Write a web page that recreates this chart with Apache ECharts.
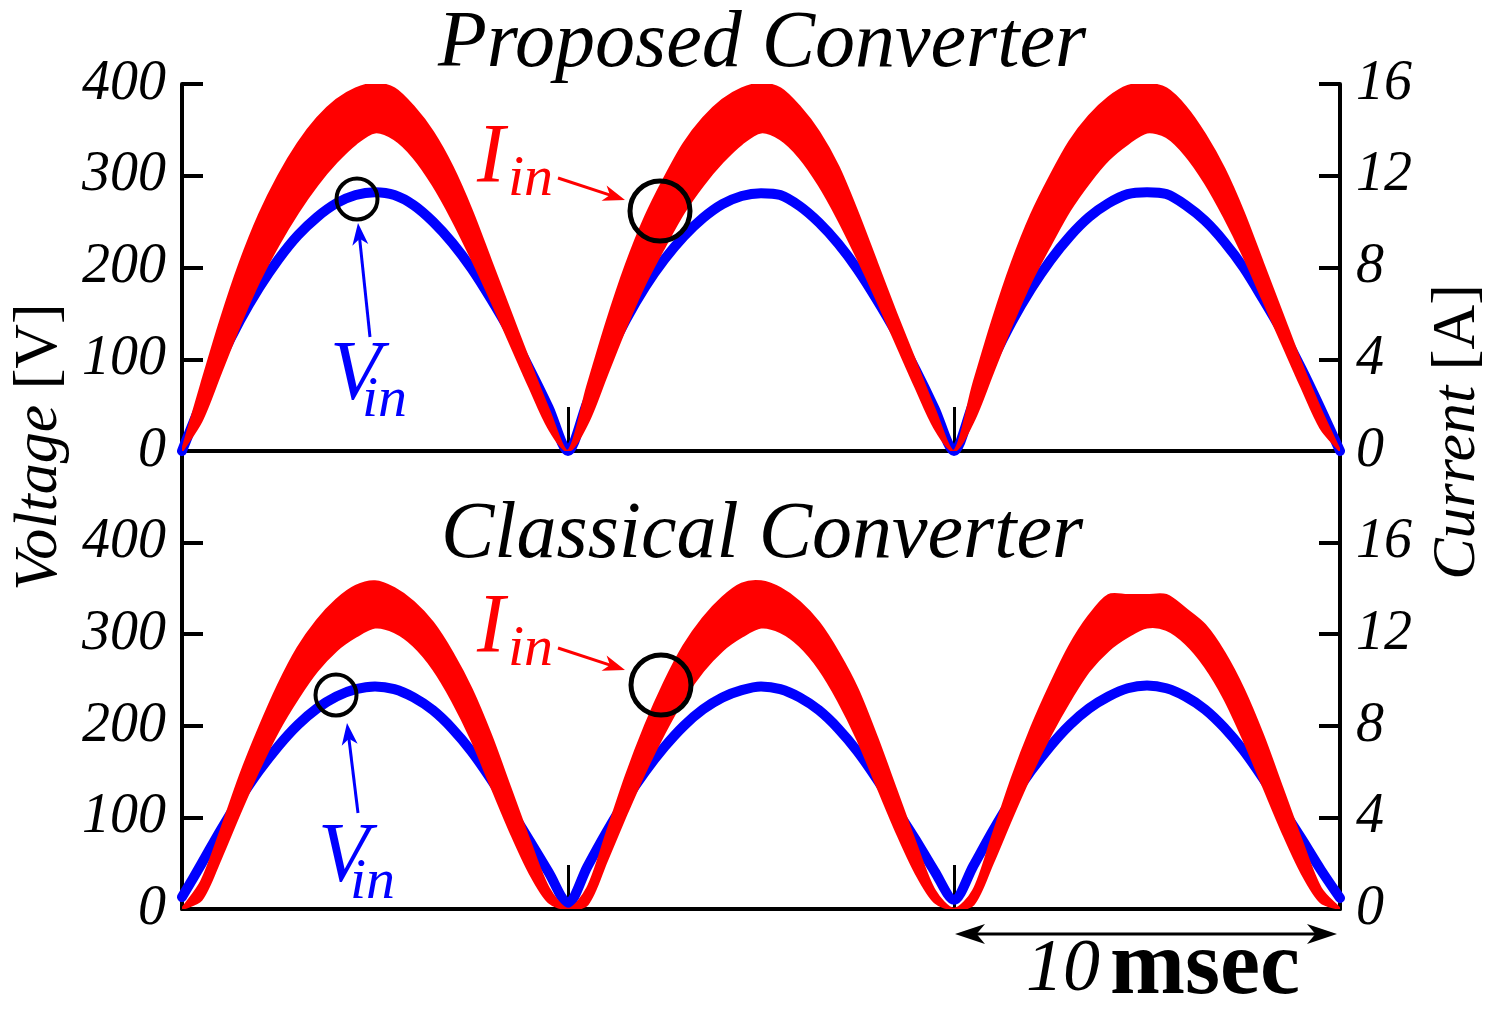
<!DOCTYPE html>
<html>
<head>
<meta charset="utf-8">
<script src="https://cdn.jsdelivr.net/npm/echarts/dist/echarts.min.js"></script>
<style>
html,body{margin:0;padding:0;background:#fff;}
#chart{width:1496px;height:1020px;}
</style>
</head>
<body>
<div id="chart"></div>
<script>
// ---------------- data ----------------
const timeMs = [0,0.5,1,1.5,2,2.5,3,3.5,4,4.5,5,5.5,6,6.5,7,7.5,8,8.5,9,9.5,
  10,10.5,11,11.5,12,12.5,13,13.5,14,14.5,15,15.5,16,16.5,17,17.5,18,18.5,19,19.5,
  20,20.5,21,21.5,22,22.5,23,23.5,24,24.5,25,25.5,26,26.5,27,27.5,28,28.5,29,29.5,30];

// Proposed converter: input voltage [V]
const topVin = [0,52,100,142,178,209,235,255,270,279,282,279,268,250,227,199,166,130,90,47,
  0,53,101,143,179,209,234,254,269,278,281,279,267,249,226,198,165,129,89,46,
  0,52,99,141,177,208,234,255,270,280,282,280,268,251,228,200,166,130,90,46,0];
// Proposed converter: input current ripple envelope [A]
const topIinUpper = [0,2.9,5.7,8.2,10.3,12.0,13.4,14.5,15.3,15.8,16.0,15.8,15.0,13.9,12.4,10.5,8.3,6.1,3.9,1.8,
  0,2.8,5.6,8.1,10.2,11.9,13.4,14.5,15.3,15.8,16.0,15.8,15.0,13.9,12.4,10.4,8.2,6.0,3.9,1.8,
  0,2.9,5.7,8.2,10.3,12.0,13.5,14.6,15.4,15.9,16.0,15.8,15.0,13.8,12.3,10.4,8.2,6.0,3.8,1.8,0];
const topIinLower = [0,1.3,3.4,5.5,7.4,9.0,10.4,11.6,12.6,13.4,13.9,13.6,12.8,11.6,10.1,8.4,6.6,4.7,2.8,1.0,
  0,1.2,3.3,5.4,7.3,8.9,10.4,11.6,12.6,13.4,13.9,13.6,12.8,11.6,10.1,8.4,6.6,4.7,2.8,1.0,
  0,1.3,3.4,5.5,7.4,9.0,10.5,11.7,12.7,13.4,13.9,13.7,12.9,11.7,10.2,8.5,6.6,4.7,2.8,1.0,0];

// Classical converter: input voltage [V]
const botVin = [13,49,86,120,151,178,201,219,232,240,243,240,231,217,197,172,142,109,75,40,
  6,46,84,119,150,177,200,218,231,239,243,240,231,217,197,172,142,109,76,41,
  10,47,85,120,151,178,201,219,232,241,244,241,232,218,198,173,143,110,77,43,12];
// Classical converter: input current ripple envelope [A]
const botIinUpper = [0,1.2,3.4,5.8,7.9,9.8,11.4,12.6,13.5,14.1,14.3,14.0,13.4,12.5,11.2,9.6,7.6,5.3,3.0,0.9,
  0,0.9,3.3,5.8,8.0,9.9,11.5,12.7,13.6,14.2,14.3,14.0,13.4,12.5,11.2,9.6,7.5,5.2,2.9,0.8,
  0,0.8,3.2,5.7,7.9,9.8,11.5,12.8,13.7,13.7,13.7,13.7,13.1,12.4,11.2,9.6,7.6,5.3,3.0,0.9,0];
const botIinLower = [0,0.4,2.2,4.2,6.1,7.8,9.2,10.4,11.3,11.9,12.3,12.1,11.5,10.5,9.1,7.4,5.4,3.4,1.6,0.3,
  0,0.2,2.1,4.1,6.0,7.7,9.2,10.4,11.3,11.9,12.3,12.1,11.5,10.5,9.1,7.4,5.4,3.4,1.6,0.3,
  0,0.2,2.0,4.0,5.9,7.6,9.1,10.4,11.3,11.9,12.3,12.2,11.6,10.6,9.2,7.4,5.4,3.4,1.6,0.3,0];

const voltTicks = [0,100,200,300,400];
const currTicks = [0,4,8,12,16];
const panelTitles = ['Proposed Converter','Classical Converter'];

// ---------------- helpers ----------------
const zip = (xs, ys) => xs.map((x, i) => [x, ys[i]]);
const SERIF = '"Liberation Serif","DejaVu Serif",serif';
const BLUE = '#0000ff', RED = '#ff0000';

function arrowHead(x2, y2, ux, uy, color, hl, hw) {
  const bx = x2 - ux * hl, by = y2 - uy * hl;
  const nx = x2 - ux * hl * 0.72, ny = y2 - uy * hl * 0.72;
  return {type:'polygon', z:100, shape:{points:[[x2,y2],[bx - uy*hw, by + ux*hw],[nx,ny],[bx + uy*hw, by - ux*hw]]}, style:{fill:color}};
}
function arrow(x1, y1, x2, y2, color, w, hl, hw, both) {
  const dx = x2 - x1, dy = y2 - y1, L = Math.hypot(dx, dy), ux = dx / L, uy = dy / L;
  const els = [{type:'line', z:100, shape:{x1: both ? x1 + ux*hl*0.6 : x1, y1: both ? y1 + uy*hl*0.6 : y1, x2: x2 - ux*hl*0.6, y2: y2 - uy*hl*0.6}, style:{stroke:color, lineWidth:w}}];
  els.push(arrowHead(x2, y2, ux, uy, color, hl, hw));
  if (both) els.push(arrowHead(x1, y1, -ux, -uy, color, hl, hw));
  return els;
}
function txt(x, y, text, font, color, align) {
  return {type:'text', z:100, x:x, y:y, style:{text:text, font:font, fill:color || '#000',
    textAlign: align || 'left', align: align || 'left', textVerticalAlign:'middle', verticalAlign:'middle'}};
}
function circ(cx, cy, r, w) {
  return {type:'circle', z:100, shape:{cx:cx, cy:cy, r:r}, style:{fill:'none', stroke:'#000', lineWidth:w}};
}

// ---------------- axes ----------------
const axisLineStyle = {color:'#000', width:4};
const labelStyle = {fontFamily:SERIF, fontStyle:'italic', fontSize:56, color:'#000'};

function xAx(gi) {
  return {gridIndex:gi, type:'value', min:0, max:30, interval:10,
    axisLine:{show:true, onZero:false, lineStyle:axisLineStyle},
    axisTick:{show:true, inside:true, length:44, lineStyle:{color:'#000', width:3}},
    axisLabel:{show:false}, splitLine:{show:false}};
}
function yAx(gi, pos, max, interval, shown) {
  return {gridIndex:gi, type:'value', position:pos, min:0, max:max, interval:interval,
    axisLine:{show:true, onZero:false, lineStyle:axisLineStyle},
    axisTick:{show:true, inside:true, length:21, lineStyle:{color:'#000', width:4}},
    axisLabel:Object.assign({margin:16, formatter: v => shown.indexOf(v) >= 0 ? String(v) : ''}, labelStyle),
    splitLine:{show:false}};
}

// ---------------- series ----------------
// ripple band of the input current: one smoothed polygon (upper envelope forward, lower envelope back)
function bandSeries(xi, yi, up, low) {
  const data = timeMs.map((t, i) => [t, low[i], up[i]]);
  return {type:'custom', xAxisIndex:xi, yAxisIndex:yi, data:data, encode:{x:0, y:[1, 2]},
    clip:true, z:3, silent:true,
    renderItem: function (params, api) {
      if (params.dataIndex !== 0) return null;
      const pts = [];
      for (let i = 0; i < data.length; i++) pts.push(api.coord([data[i][0], data[i][2]]));
      for (let i = data.length - 1; i >= 0; i--) pts.push(api.coord([data[i][0], data[i][1]]));
      return {type:'polygon', shape:{points:pts, smooth:0.3}, style:{fill:RED, stroke:RED, lineWidth:2.5, lineJoin:'round'}};
    }};
}
function panelSeries(xi, yv, yi, vin, up, low) {
  return [
    {type:'line', xAxisIndex:xi, yAxisIndex:yv, data:zip(timeMs, vin), symbol:'none', smooth:0.3,
      lineStyle:{color:BLUE, width:10, cap:'round', join:'round'}, z:2, silent:true},
    bandSeries(xi, yi, up, low)
  ];
}

const graphics = [
  txt(762, 45, panelTitles[0], 'italic 80px ' + SERIF, '#000', 'center'),
  txt(762, 536, panelTitles[1], 'italic 80px ' + SERIF, '#000', 'center'),
  {type:'text', z:100, x:40, y:447, rotation:Math.PI/2,
    style:{text:'{a|Voltage }{b|[V]}', textAlign:'center', align:'center', textVerticalAlign:'middle', verticalAlign:'middle',
      rich:{a:{fontFamily:SERIF, fontStyle:'italic', fontSize:62, fill:'#000', color:'#000'},
            b:{fontFamily:SERIF, fontSize:62, fill:'#000', color:'#000'}}}},
  {type:'text', z:100, x:1458, y:432, rotation:Math.PI/2,
    style:{text:'{a|Current }{b|[A]}', textAlign:'center', align:'center', textVerticalAlign:'middle', verticalAlign:'middle',
      rich:{a:{fontFamily:SERIF, fontStyle:'italic', fontSize:62, fill:'#000', color:'#000'},
            b:{fontFamily:SERIF, fontSize:62, fill:'#000', color:'#000'}}}},
  // top annotations
  txt(477, 160, 'I', 'italic 84px ' + SERIF, RED),
  txt(508, 180, 'in', 'italic 58px ' + SERIF, RED),
  txt(330, 377, 'V', 'italic 84px ' + SERIF, BLUE),
  txt(362, 401, 'in', 'italic 58px ' + SERIF, BLUE),
  circ(357, 199, 20.5, 4),
  circ(660, 211, 30, 5),
  ...arrow(558, 178, 625, 200, RED, 3, 22, 8),
  ...arrow(370, 337, 358, 223, BLUE, 3, 22, 8),
  // bottom annotations
  txt(477, 630, 'I', 'italic 84px ' + SERIF, RED),
  txt(508, 650, 'in', 'italic 58px ' + SERIF, RED),
  txt(318, 859, 'V', 'italic 84px ' + SERIF, BLUE),
  txt(350, 883, 'in', 'italic 58px ' + SERIF, BLUE),
  circ(336, 695, 20.5, 4),
  circ(661, 685, 30, 5),
  ...arrow(558, 648, 625, 670, RED, 3, 22, 8),
  ...arrow(358, 813, 347, 723, BLUE, 3, 22, 8),
  // 10 msec scale
  ...arrow(955, 934, 1337, 934, '#000', 3, 30, 10, true),
  txt(1026, 971, '10', 'italic 74px ' + SERIF, '#000'),
  txt(1110, 970, 'msec', 'bold 90px ' + SERIF, '#000')
];

const option = {
  backgroundColor:'#fff',
  animation:false,
  grid:[
    {left:182, right:156, top:84, height:367},
    {left:182, right:156, top:451, height:458}
  ],
  xAxis:[xAx(0), xAx(1)],
  yAxis:[
    yAx(0, 'left', 400, 100, voltTicks),
    yAx(0, 'right', 16, 4, currTicks),
    yAx(1, 'left', 500, 100, voltTicks),
    yAx(1, 'right', 20, 4, currTicks)
  ],
  series:[
    ...panelSeries(0, 0, 1, topVin, topIinUpper, topIinLower),
    ...panelSeries(1, 2, 3, botVin, botIinUpper, botIinLower)
  ],
  graphic:graphics
};

const chart = echarts.init(document.getElementById('chart'), null, {renderer:'canvas'});
chart.setOption(option);
</script>
</body>
</html>
